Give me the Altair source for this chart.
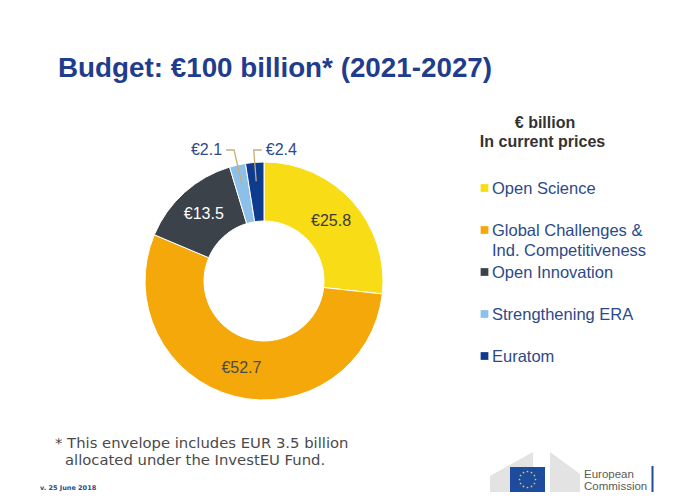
import math
import altair as alt
import pandas as pd

# ---------------- data ----------------
categories = ["Open Science", "Global Challenges & Ind. Competitiveness",
              "Open Innovation", "Strengthening ERA", "Euratom"]
legend_labels = ["Open Science", "Global Challenges &\nInd. Competitiveness",
                 "Open Innovation", "Strengthening ERA", "Euratom"]
values = [25.8, 52.7, 13.5, 2.1, 2.4]
colors = ["#F8DC15", "#F5A80A", "#3B424A", "#8CC0E8", "#0E3B8E"]
label_colors = ["#3a3a3a", "#4a4a4a", "#ffffff", "#2C4A8A", "#2C4A8A"]

title_text = "Budget: €100 billion* (2021-2027)"
legend_head = ["€ billion", "In current prices"]
foot_lines = ["* This envelope includes EUR 3.5 billion", "allocated under the InvestEU Fund."]
version_text = "v. 25 June 2018"

# ---------------- layout (page px) ----------------
OFF = 8
W, H = 662, 484
CX, CY = 264 - OFF, 281 - OFF
R_IN, R_OUT = 60, 119
BLUE_T = "#1F3D8C"
BLUE_L = "#2C4A8A"
FONT = "Liberation Sans"

df = pd.DataFrame({
    "idx": list(range(len(categories))),
    "category": categories,
    "value": values,
    "color": colors,
    "lcolor": label_colors,
    "label": ["€" + str(v) for v in values],
})
df["inside"] = [l if v >= 5 else "" for l, v in zip(df["label"], values)]

# leader lines for small slices, derived from the stacked angles
total = sum(values)
cum = 0.0
mids = []
for v in values:
    mids.append((cum + v / 2) / total * 2 * math.pi)
    cum += v
small = [i for i, v in enumerate(values) if v < 5]
lines, outs = [], []
for k, i in enumerate(small):
    m = mids[i]
    side = -1 if k == 0 else 1
    ax, ay = CX + 100 * math.sin(m), CY - 100 * math.cos(m)
    ey = CY - 131
    ex = CX + 131 * math.tan(m)
    endx = ex + side * 8
    for o, (px, py) in enumerate([(ax, ay), (ex, ey), (endx, ey)]):
        lines.append({"seg": categories[i], "ord": o, "px": px, "py": py})
    outs.append({"label": "€" + str(values[i]), "px": endx + side * 4, "py": ey,
                 "side": "L" if side < 0 else "R"})
lines_df = pd.DataFrame(lines)
outs_df = pd.DataFrame(outs)

leg_df = pd.DataFrame({
    "label": legend_labels,
    "color": colors,
    "sx": [484.5 - OFF] * len(categories),
    "tx": [492 - OFF] * len(categories),
    "py": [188 - OFF + 42 * i for i in range(len(categories))],
})
leg_df["ty"] = leg_df["py"] + 5.7

XN = lambda f: alt.X(f, type="quantitative", scale=None, axis=None)
YN = lambda f: alt.Y(f, type="quantitative", scale=None, axis=None)


def txt(s, x, y, **kw):
    return alt.Chart(pd.DataFrame({"t": [s]})).mark_text(**kw).encode(
        text="t:N", x=alt.value(x - OFF), y=alt.value(y - OFF))


arcs = alt.Chart(df).mark_arc(innerRadius=R_IN, outerRadius=R_OUT,
                              stroke="white", strokeWidth=1).encode(
    theta=alt.Theta("value:Q", stack=True),
    order=alt.Order("idx:Q"),
    color=alt.Color("color:N", scale=None, legend=None),
    x=alt.value(CX), y=alt.value(CY),
)

inlab = alt.Chart(df).mark_text(radius=90, fontSize=16, font=FONT).encode(
    theta=alt.Theta("value:Q", stack=True),
    order=alt.Order("idx:Q"),
    text="inside:N",
    color=alt.Color("lcolor:N", scale=None, legend=None),
    x=alt.value(CX), y=alt.value(CY),
)

leaders = alt.Chart(lines_df).mark_line(color="#C9AE78", strokeWidth=1.3).encode(
    x=XN("px"), y=YN("py"), detail="seg:N", order="ord:Q")

out_left = alt.Chart(outs_df).transform_filter("datum.side == 'L'").mark_text(
    align="right", baseline="middle", fontSize=16, font=FONT, color=BLUE_L).encode(
    x=XN("px"), y=YN("py"), text="label:N")
out_right = alt.Chart(outs_df).transform_filter("datum.side == 'R'").mark_text(
    align="left", baseline="middle", fontSize=16, font=FONT, color=BLUE_L).encode(
    x=XN("px"), y=YN("py"), text="label:N")

leg_sq = alt.Chart(leg_df).mark_square(size=60, opacity=1).encode(
    x=XN("sx"), y=YN("py"), color=alt.Color("color:N", scale=None, legend=None))
leg_tx = alt.Chart(leg_df).mark_text(align="left", baseline="alphabetic", fontSize=16.5,
                                     font=FONT, color=BLUE_L, lineBreak="\n",
                                     lineHeight=20).encode(
    x=XN("tx"), y=YN("ty"), text="label:N")

title = txt(title_text, 58, 77, align="left", baseline="alphabetic", fontSize=27.8,
            fontWeight="bold", font=FONT, color=BLUE_T)
head1 = txt(legend_head[0], 545, 123, align="center", baseline="middle", fontSize=16,
            fontWeight="bold", font=FONT, color="#333333")
head2 = txt(legend_head[1], 542.5, 142, align="center", baseline="middle", fontSize=16,
            fontWeight="bold", font=FONT, color="#333333")
foot1 = txt(foot_lines[0], 55, 448, align="left", baseline="alphabetic", fontSize=14.8,
            font="DejaVu Sans", color="#4a4a4a")
foot2 = txt(foot_lines[1], 65, 464.5, align="left", baseline="alphabetic", fontSize=14.8,
            font="DejaVu Sans", color="#4a4a4a")
ver = txt(version_text, 40, 490, align="left", baseline="alphabetic", fontSize=6.5,
          fontWeight="bold", font="DejaVu Sans", color=BLUE_L)

# European Commission logo (decorative)
bld = pd.DataFrame({
    "b": ["a", "a", "b", "b"],
    "px": [490 - OFF, 533 - OFF, 550 - OFF, 580 - OFF],
    "py": [476 - OFF, 452 - OFF, 452 - OFF, 474 - OFF],
    "py2": [492 - OFF] * 4,
})
buildings = alt.Chart(bld).mark_area(color="#E3E3E3").encode(
    x=XN("px"), y=YN("py"), y2="py2", detail="b:N")
flag = alt.Chart(pd.DataFrame({"t": [0]})).mark_rect(color="#1D4B9E").encode(
    x=alt.value(510 - OFF), x2=alt.value(545 - OFF),
    y=alt.value(467 - OFF), y2=alt.value(492 - OFF))
stars_df = pd.DataFrame({
    "px": [527.5 - OFF + 8 * math.sin(k * math.pi / 6) for k in range(12)],
    "py": [479.5 - OFF - 8 * math.cos(k * math.pi / 6) for k in range(12)],
})
stars = alt.Chart(stars_df).mark_circle(size=3, color="#F5D31A", opacity=1).encode(
    x=XN("px"), y=YN("py"))
ec1 = txt("European", 584, 475, align="left", baseline="middle", fontSize=11.5,
          font=FONT, color="#5a5a5a")
ec2 = txt("Commission", 584, 487, align="left", baseline="middle", fontSize=11.5,
          font=FONT, color="#5a5a5a")
ecbar = alt.Chart(pd.DataFrame({"t": [0]})).mark_rule(color="#1D4B9E", strokeWidth=2).encode(
    x=alt.value(652.5 - OFF), y=alt.value(466 - OFF), y2=alt.value(492 - OFF))

chart = alt.layer(
    arcs, inlab, leaders, out_left, out_right, leg_sq, leg_tx,
    title, head1, head2, foot1, foot2, ver,
    buildings, flag, stars, ec1, ec2, ecbar,
).properties(
    width=W, height=H, padding=0, autosize="none", background="white"
).configure_view(stroke=None)

chart.save("out.html", embed_options={"renderer": "svg", "actions": False})
